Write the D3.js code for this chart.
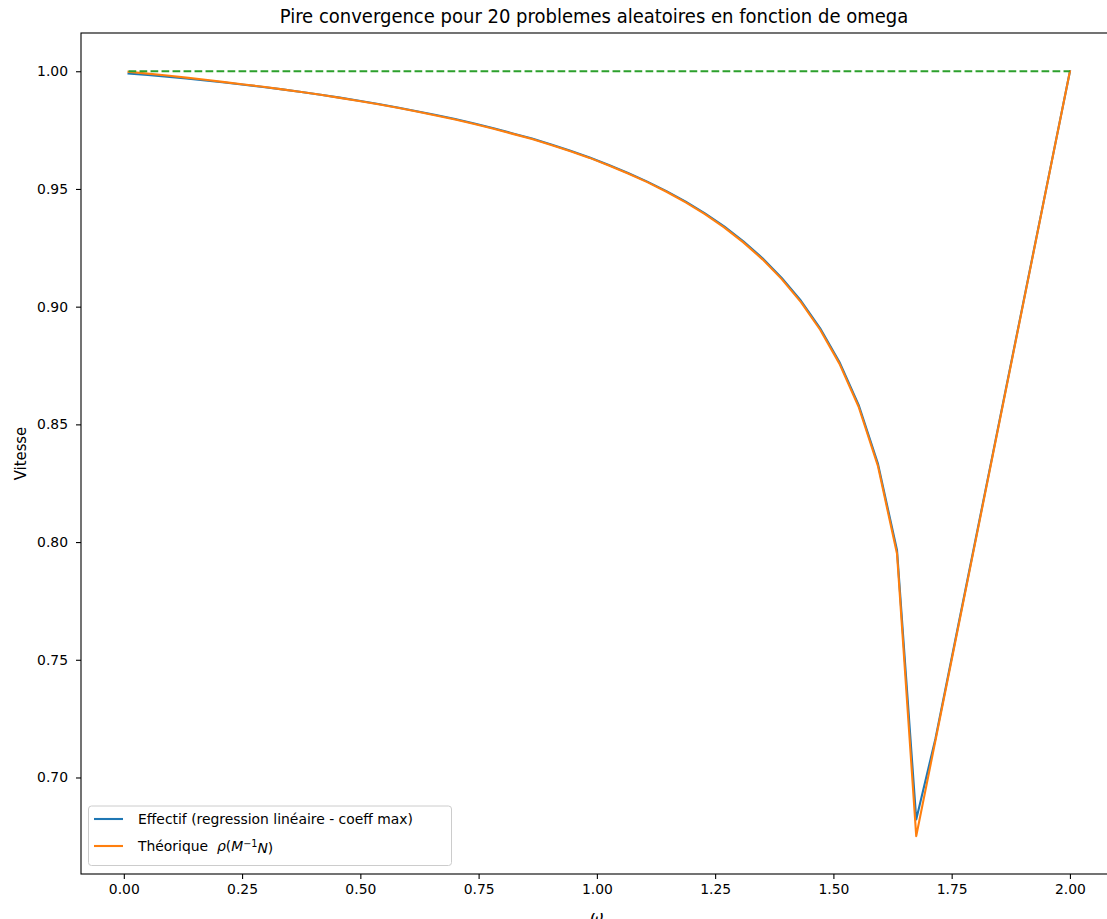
<!DOCTYPE html>
<html>
<head>
<meta charset="utf-8">
<script src="https://cdn.jsdelivr.net/npm/d3@7"></script>
<style>
  body { margin: 0; background: #fff; }
  text { font-family: "DejaVu Sans", sans-serif; }
  .narrow { font-family: "DejaVu Sans Condensed", "DejaVu Sans", sans-serif; font-stretch: condensed; }
</style>
</head>
<body>
<div id="chart"></div>
<script>
// omega values (50 points between 0.01 and 2.0)
var omega = [0.0100, 0.0506, 0.0912, 0.1318, 0.1724, 0.2131, 0.2537, 0.2943, 0.3349, 0.3755,
             0.4161, 0.4567, 0.4973, 0.5380, 0.5786, 0.6192, 0.6598, 0.7004, 0.7410, 0.7816,
             0.8222, 0.8629, 0.9035, 0.9441, 0.9847, 1.0253, 1.0659, 1.1065, 1.1471, 1.1878,
             1.2284, 1.2690, 1.3096, 1.3502, 1.3908, 1.4314, 1.4720, 1.5127, 1.5533, 1.5939,
             1.6345, 1.6751, 1.7157, 1.7563, 1.7969, 1.8376, 1.8782, 1.9188, 1.9594, 2.0000];

// "Effectif" series
var effectif = [0.9990, 0.9984, 0.9977, 0.9969, 0.9961, 0.9952, 0.9943, 0.9933, 0.9923, 0.9912,
                0.9900, 0.9888, 0.9875, 0.9861, 0.9846, 0.9830, 0.9814, 0.9797, 0.9778, 0.9758,
                0.9736, 0.9714, 0.9689, 0.9662, 0.9634, 0.9602, 0.9568, 0.9531, 0.9491, 0.9446,
                0.9396, 0.9341, 0.9278, 0.9206, 0.9122, 0.9025, 0.8908, 0.8765, 0.8583, 0.8335,
                0.7965, 0.6822, 0.7165, 0.7570, 0.7975, 0.8381, 0.8786, 0.9191, 0.9596, 1.0000];

// "Theorique" series
var theorique = [0.9998, 0.9990, 0.9982, 0.9973, 0.9964, 0.9954, 0.9944, 0.9934, 0.9923, 0.9912,
                 0.9900, 0.9887, 0.9874, 0.9860, 0.9845, 0.9829, 0.9812, 0.9795, 0.9776, 0.9756,
                 0.9734, 0.9712, 0.9687, 0.9660, 0.9632, 0.9600, 0.9566, 0.9529, 0.9488, 0.9443,
                 0.9393, 0.9337, 0.9273, 0.9201, 0.9117, 0.9019, 0.8902, 0.8758, 0.8575, 0.8325,
                 0.7950, 0.6751, 0.7157, 0.7563, 0.7969, 0.8376, 0.8782, 0.9188, 0.9594, 1.0000];

// dashed reference line
var refX = [0.01, 2.0];
var refY = [1.0, 1.0];

var xTicks = [0, 0.25, 0.5, 0.75, 1.0, 1.25, 1.5, 1.75, 2.0];
var yTicks = [0.70, 0.75, 0.80, 0.85, 0.90, 0.95, 1.00];

var width = 1107, height = 919;
var plotLeft = 81, plotTop = 33, plotRight = 1117, plotBottom = 874;

var x = d3.scaleLinear().domain([-0.0905, 2.0995]).range([plotLeft, plotRight]);
var y = d3.scaleLinear().domain([0.6590, 1.01625]).range([plotBottom, plotTop]);

var svg = d3.select("#chart").append("svg")
    .attr("width", width)
    .attr("height", height);

svg.append("text")
    .attr("class", "narrow")
    .attr("x", 594)
    .attr("y", 23)
    .attr("text-anchor", "middle")
    .style("font-size", "20px")
    .text("Pire convergence pour 20 problemes aleatoires en fonction de omega");

// axes
var xAxis = svg.append("g")
    .attr("transform", "translate(0," + plotBottom + ")")
    .call(d3.axisBottom(x).tickValues(xTicks).tickFormat(d3.format(".2f"))
        .tickSize(5).tickPadding(5).tickSizeOuter(0));
var yAxis = svg.append("g")
    .attr("transform", "translate(" + plotLeft + ",0)")
    .call(d3.axisLeft(y).tickValues(yTicks).tickFormat(d3.format(".2f"))
        .tickSize(5).tickPadding(8).tickSizeOuter(0));

[xAxis, yAxis].forEach(function (a) {
    a.select(".domain").remove();
    a.selectAll("line").attr("stroke", "#000").attr("stroke-width", 1.1);
    a.selectAll("text").style("font-size", "13.9px").attr("fill", "#000")
        .style("font-family", "DejaVu Sans, sans-serif");
});

// lines
var line = d3.line()
    .x(function (d) { return x(d[0]); })
    .y(function (d) { return y(d[1]); });

svg.append("path")
    .datum(d3.zip(omega, effectif))
    .attr("d", line)
    .attr("fill", "none")
    .attr("stroke", "#1f77b4")
    .attr("stroke-width", 2.1)
    .attr("stroke-linejoin", "round")
    .attr("stroke-linecap", "square");

svg.append("path")
    .datum(d3.zip(omega, theorique))
    .attr("d", line)
    .attr("fill", "none")
    .attr("stroke", "#ff7f0e")
    .attr("stroke-width", 2.1)
    .attr("stroke-linejoin", "round")
    .attr("stroke-linecap", "square");

svg.append("path")
    .datum(d3.zip(refX, refY))
    .attr("d", line)
    .attr("fill", "none")
    .attr("stroke", "#2ca02c")
    .attr("stroke-width", 2.1)
    .attr("stroke-dasharray", "7.7,3.3");

// frame
svg.append("rect")
    .attr("x", plotLeft)
    .attr("y", plotTop)
    .attr("width", plotRight - plotLeft)
    .attr("height", plotBottom - plotTop)
    .attr("fill", "none")
    .attr("stroke", "#000")
    .attr("stroke-width", 1.1);

// axis labels
svg.append("text")
    .attr("class", "narrow")
    .attr("transform", "translate(26," + ((plotTop + plotBottom) / 2) + ") rotate(-90)")
    .attr("text-anchor", "middle")
    .style("font-size", "16.5px")
    .text("Vitesse");

svg.append("text")
    .attr("x", x(1.0))
    .attr("y", 922)
    .attr("text-anchor", "middle")
    .style("font-size", "16px")
    .style("font-style", "italic")
    .text("ω");

// legend
var legend = svg.append("g");
legend.append("rect")
    .attr("x", 88.5).attr("y", 806)
    .attr("width", 363).attr("height", 59.5)
    .attr("rx", 3)
    .attr("fill", "#fff").attr("fill-opacity", 0.8)
    .attr("stroke", "#cccccc").attr("stroke-width", 1);

var legendItems = [
    {color: "#1f77b4", y: 819},
    {color: "#ff7f0e", y: 846}
];
legend.selectAll("line.item")
    .data(legendItems)
    .enter().append("line")
    .attr("x1", 94).attr("x2", 123)
    .attr("y1", function (d) { return d.y; })
    .attr("y2", function (d) { return d.y; })
    .attr("stroke", function (d) { return d.color; })
    .attr("stroke-width", 2.1);

legend.append("text")
    .attr("x", 138).attr("y", 819)
    .attr("dy", "0.35em")
    .style("font-size", "13.9px")
    .text("Effectif (regression linéaire - coeff max)");

var t2 = legend.append("text")
    .attr("x", 138).attr("y", 846)
    .attr("dy", "0.35em")
    .style("font-size", "13.9px")
    .attr("xml:space", "preserve");
t2.append("tspan").text("Théorique  ");
t2.append("tspan").style("font-style", "italic").text("ρ");
t2.append("tspan").text("(");
t2.append("tspan").style("font-style", "italic").text("M");
t2.append("tspan").attr("dy", "-0.45em").style("font-size", "9.7px").text("−1");
t2.append("tspan").attr("dy", "0.45em").style("font-style", "italic").text("N");
t2.append("tspan").text(")");
</script>
</body>
</html>
